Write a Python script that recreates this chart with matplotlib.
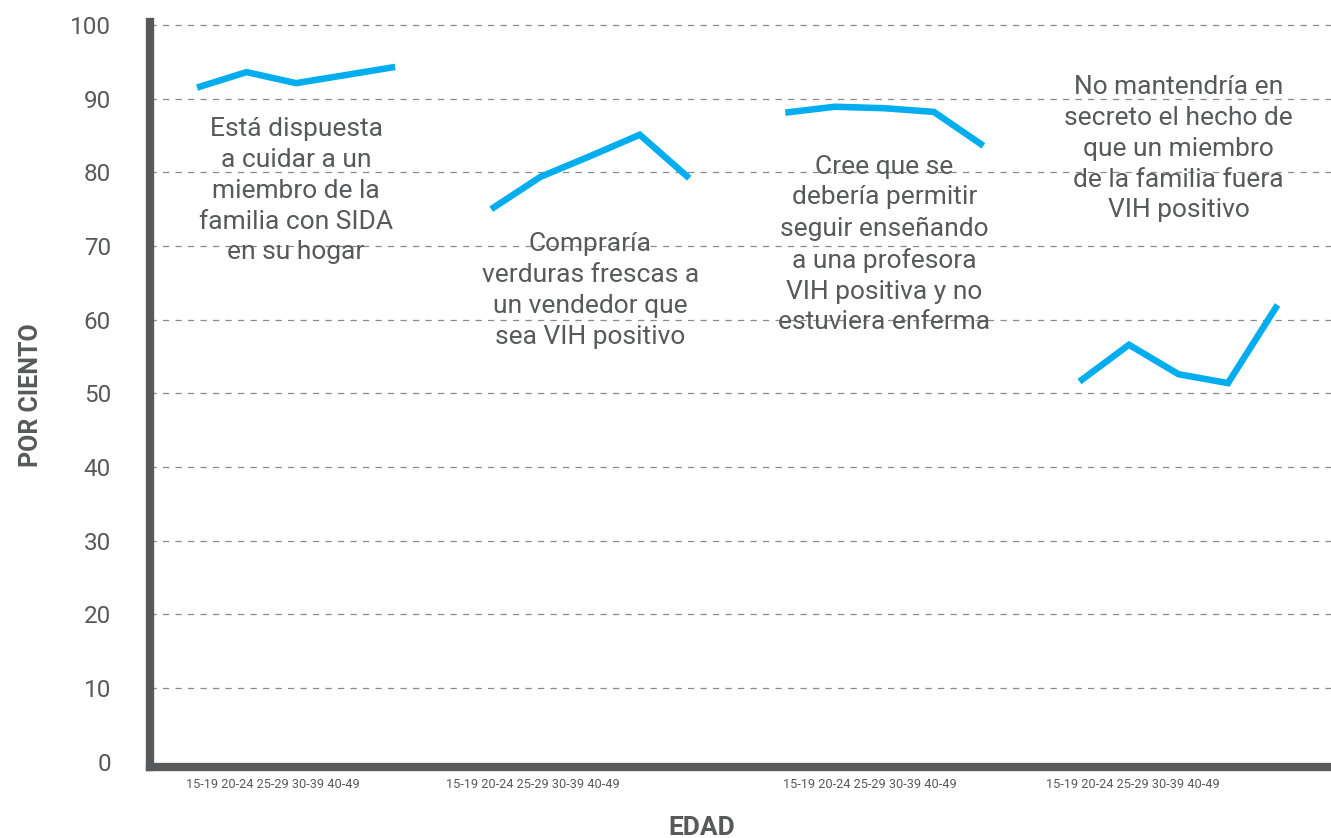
import numpy as np
import matplotlib
matplotlib.use("Agg")
import matplotlib.pyplot as plt

plt.rcParams['font.family'] = ['Roboto', 'DejaVu Sans']

edades = ['15-19', '20-24', '25-29', '30-39', '40-49']
cuidar = [91.5, 93.6, 92.1, 93.2, 94.3]
verduras = [75.0, 79.4, 82.2, 85.1, 79.2]
profesora = [88.1, 88.9, 88.7, 88.2, 83.6]
secreto = [51.6, 56.6, 52.6, 51.4, 62.0]
series = [cuidar, verduras, profesora, secreto]
textos = ['Está dispuesta\na cuidar a un\nmiembro de la\nfamilia con SIDA\nen su hogar',
          'Compraría\nverduras frescas a\nun vendedor que\nsea VIH positivo',
          'Cree que se\ndebería permitir\nseguir enseñando\na una profesora\nVIH positiva y no\nestuviera enferma',
          'No mantendría en\nsecreto el hecho de\nque un miembro\nde la familia fuera\nVIH positivo']
texto_y = [87.5, 71.9, 82.4, 93.2]
# where each group's age label string sits, relative to group start
etiqueta_off = [1.53, 0.84, 1.71, 1.08]

gris = '#58595b'
azul = '#00aeef'

fig = plt.figure(figsize=(13.31, 8.38), dpi=100)
ax = fig.add_axes([150/1331, 1 - 767/838, 1 - 150/1331, (767 - 22)/838])

ticks = []
for g, vals in enumerate(series):
    x0 = g * 6 - 0.06 * g
    x = np.arange(len(vals)) + x0
    ax.plot(x, vals, color=azul, lw=4.7, solid_joinstyle='miter',
            solid_capstyle='butt', zorder=3)
    ax.text(x[2], texto_y[g], textos[g], ha='center', va='top', fontsize=19,
            color=gris, linespacing=1.36, zorder=4)
    ticks.append(x0 + etiqueta_off[g])

ax.set_xlim(-0.95, 22.9)
ax.set_ylim(-0.7, 100.4)
ax.set_yticks(range(0, 101, 10))
ax.set_xticks(ticks)
ax.set_xticklabels([' '.join(edades)] * len(series), fontsize=9.2, color=gris)
ax.tick_params(axis='y', length=0, pad=28, labelsize=17.5, labelcolor=gris)
ax.tick_params(axis='x', length=0, pad=8)

for yv in range(10, 101, 10):
    ax.axhline(yv, color='#8a8a8a', lw=0.9, ls=(0, (5, 5)), zorder=1)

for s in ['top', 'right']:
    ax.spines[s].set_visible(False)
for s in ['left', 'bottom']:
    ax.spines[s].set_linewidth(6)
    ax.spines[s].set_color(gris)

fig.text(31/1331, 1 - 395/838, 'POR CIENTO', rotation=90, ha='center', va='center',
         fontsize=18, fontweight='bold', color=gris)
fig.text(702/1331, 1 - 828/838, 'EDAD', ha='center', va='center',
         fontsize=19, fontweight='bold', color=gris)

fig.savefig('out.png', dpi=100)
